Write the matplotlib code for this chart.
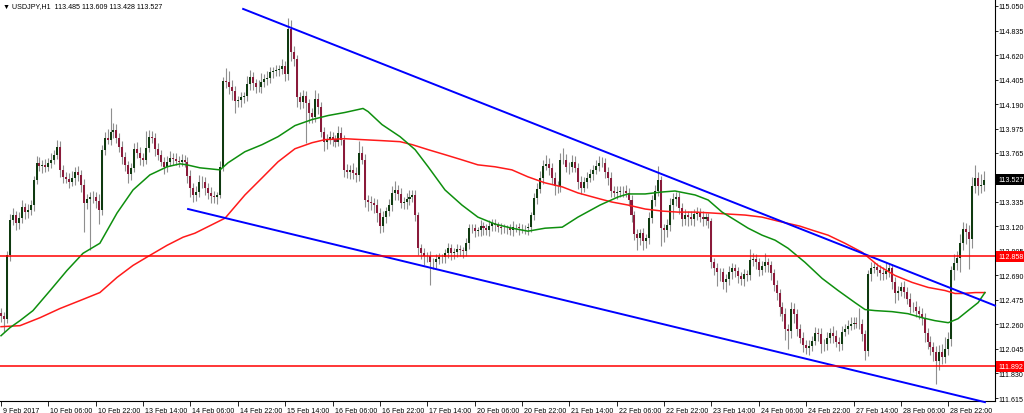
import matplotlib
matplotlib.use("Agg")
import matplotlib.pyplot as plt
import matplotlib.transforms as mtransforms
import numpy as np

# ============================================================
# Data: USDJPY H1, one value per bar (bar 0 = 9 Feb 2017 14:00)
# ============================================================
FIRST_OPEN = 112.36

CLOSES = [
    112.337, 112.310, 112.866, 113.174, 113.218, 113.147, 113.191, 113.288, 113.244, 113.262,
    113.306, 113.526, 113.676, 113.650, 113.658, 113.641, 113.676, 113.702, 113.747, 113.817,
    113.614, 113.553, 113.535, 113.509, 113.544, 113.597, 113.570, 113.482, 113.324, 113.359,
    113.376, 113.376, 113.341, 113.262, 113.791, 113.896, 113.879, 113.949, 113.967, 113.896,
    113.817, 113.729, 113.658, 113.579, 113.632, 113.799, 113.764, 113.720, 113.702, 113.808,
    113.905, 113.896, 113.799, 113.747, 113.685, 113.641, 113.685, 113.720, 113.711, 113.694,
    113.685, 113.702, 113.685, 113.561, 113.456, 113.394, 113.420, 113.509, 113.509, 113.456,
    113.412, 113.385, 113.376, 113.394, 113.641, 114.390, 114.381, 114.337, 114.302, 114.213,
    114.222, 114.249, 114.257, 114.363, 114.425, 114.372, 114.337, 114.337, 114.381, 114.407,
    114.416, 114.469, 114.478, 114.487, 114.495, 114.522, 114.451, 114.848, 114.645, 114.583,
    114.249, 114.205, 114.257, 114.196, 114.108, 114.081, 114.231, 114.161, 113.949, 113.861,
    113.887, 113.905, 113.887, 113.861, 113.940, 113.879, 113.614, 113.597, 113.614, 113.588,
    113.570, 113.764, 113.702, 113.350, 113.332, 113.324, 113.306, 113.236, 113.121, 113.200,
    113.253, 113.306, 113.412, 113.438, 113.403, 113.324, 113.332, 113.359, 113.376, 113.394,
    113.218, 112.927, 112.883, 112.857, 112.857, 112.804, 112.804, 112.830, 112.848, 112.848,
    112.883, 112.927, 112.883, 112.892, 112.918, 112.910, 112.901, 112.971, 113.103, 113.103,
    113.077, 113.086, 113.121, 113.103, 113.086, 113.121, 113.147, 113.130, 113.112, 113.103,
    113.103, 113.103, 113.086, 113.112, 113.112, 113.103, 113.103, 113.103, 113.112, 113.218,
    113.368, 113.447, 113.544, 113.650, 113.667, 113.632, 113.544, 113.473, 113.473, 113.702,
    113.702, 113.641, 113.641, 113.685, 113.632, 113.509, 113.456, 113.509, 113.544, 113.579,
    113.614, 113.650, 113.676, 113.676, 113.597, 113.544, 113.429, 113.412, 113.420, 113.429,
    113.429, 113.412, 113.350, 113.218, 113.050, 113.015, 113.059, 112.989, 113.015, 113.191,
    113.350, 113.429, 113.526, 113.103, 113.086, 113.130, 113.306, 113.359, 113.376, 113.280,
    113.183, 113.218, 113.200, 113.183, 113.227, 113.236, 113.200, 113.183, 113.200, 113.165,
    112.804, 112.751, 112.716, 112.716, 112.628, 112.654, 112.716, 112.751, 112.725, 112.680,
    112.654, 112.698, 112.689, 112.822, 112.830, 112.804, 112.733, 112.769, 112.804, 112.777,
    112.707, 112.601, 112.531, 112.416, 112.354, 112.222, 112.205, 112.399, 112.354, 112.222,
    112.143, 112.081, 112.055, 112.073, 112.117, 112.187, 112.178, 112.090, 112.090, 112.143,
    112.187, 112.161, 112.108, 112.090, 112.196, 112.222, 112.249, 112.266, 112.275, 112.266,
    112.266, 112.178, 112.029, 112.698, 112.751, 112.760, 112.733, 112.707, 112.698, 112.725,
    112.751, 112.628, 112.531, 112.557, 112.584, 112.548, 112.487, 112.416, 112.416, 112.381,
    112.354, 112.319, 112.187, 112.108, 112.064, 112.020, 111.940, 112.020, 111.976, 112.046,
    112.134, 112.733, 112.795, 112.839, 112.971, 113.095, 113.068, 113.006, 113.473, 113.544,
    113.473, 113.485, 113.527,
]

# wick lengths above / below the body, in pips
UPPER_WICK = [
    4, 3, 4, 5, 6, 4, 5, 6, 4, 5,
    4, 3, 6, 5, 4, 5, 4, 6, 4, 6,
    5, 4, 4, 5, 6, 4, 5, 4, 5, 4,
    4, 5, 4, 6, 4, 5, 8, 21, 6, 5,
    4, 5, 4, 3, 4, 5, 6, 5, 4, 15,
    6, 5, 4, 5, 4, 4, 5, 6, 4, 5,
    4, 5, 4, 4, 5, 4, 5, 6, 5, 4,
    4, 5, 4, 3, 5, 4, 12, 10, 6, 5,
    4, 5, 4, 7, 6, 5, 4, 6, 8, 5,
    6, 5, 4, 5, 4, 6, 5, 10, 8, 5,
    4, 5, 6, 5, 4, 5, 8, 6, 5, 4,
    4, 5, 4, 3, 6, 5, 4, 5, 4, 6,
    5, 10, 6, 5, 4, 5, 4, 5, 4, 5,
    4, 5, 6, 8, 4, 5, 4, 5, 6, 4,
    4, 3, 4, 5, 4, 5, 4, 5, 4, 3,
    4, 5, 4, 4, 5, 4, 3, 5, 4, 4,
    4, 3, 5, 4, 4, 5, 4, 4, 3, 4,
    4, 3, 4, 5, 3, 4, 4, 3, 4, 3,
    4, 5, 6, 5, 8, 5, 4, 5, 4, 6,
    10, 5, 4, 6, 5, 4, 5, 4, 5, 4,
    4, 5, 6, 5, 4, 4, 5, 4, 5, 4,
    4, 5, 4, 4, 4, 5, 4, 5, 4, 5,
    4, 5, 12, 3, 4, 5, 6, 5, 4, 4,
    4, 5, 4, 5, 4, 5, 4, 5, 4, 4,
    3, 4, 5, 4, 4, 5, 6, 5, 4, 4,
    4, 5, 4, 10, 6, 5, 4, 5, 8, 4,
    4, 4, 5, 4, 4, 5, 4, 6, 5, 4,
    4, 5, 4, 5, 4, 5, 4, 5, 4, 5,
    4, 6, 5, 4, 5, 4, 5, 6, 5, 5,
    14, 4, 3, 4, 6, 5, 4, 5, 6, 8,
    5, 4, 5, 4, 5, 6, 4, 5, 4, 5,
    4, 5, 4, 4, 5, 4, 5, 6, 7, 10,
    6, 4, 8, 6, 8, 6, 5, 6, 8, 11,
    5, 9, 8,
]

LOWER_WICK = [
    6, 12, 4, 5, 4, 6, 5, 4, 6, 5,
    4, 5, 4, 5, 6, 5, 4, 5, 4, 4,
    6, 5, 4, 5, 4, 6, 5, 6, 25, 5,
    45, 5, 6, 12, 4, 5, 4, 5, 6, 5,
    5, 6, 5, 8, 5, 4, 5, 6, 5, 4,
    4, 5, 6, 5, 4, 6, 5, 4, 5, 4,
    5, 4, 5, 6, 8, 6, 5, 4, 5, 6,
    5, 6, 5, 6, 3, 4, 5, 6, 8, 10,
    5, 6, 5, 4, 5, 6, 5, 4, 5, 4,
    5, 4, 5, 4, 5, 4, 6, 5, 8, 6,
    8, 6, 5, 35, 8, 6, 5, 6, 5, 8,
    6, 5, 6, 5, 4, 5, 6, 5, 6, 5,
    6, 5, 4, 6, 8, 6, 7, 8, 6, 5,
    5, 4, 5, 6, 5, 4, 5, 6, 5, 4,
    5, 6, 5, 8, 5, 20, 6, 5, 4, 5,
    5, 4, 6, 5, 4, 5, 6, 4, 5, 4,
    5, 4, 5, 6, 4, 5, 4, 5, 4, 5,
    4, 5, 4, 5, 4, 6, 4, 5, 6, 4,
    4, 5, 4, 5, 4, 6, 5, 8, 6, 5,
    4, 5, 6, 5, 4, 6, 5, 4, 5, 4,
    5, 4, 5, 4, 5, 6, 5, 4, 5, 4,
    5, 4, 5, 6, 5, 10, 6, 8, 6, 5,
    4, 5, 4, 16, 10, 6, 5, 12, 6, 5,
    6, 5, 8, 5, 6, 5, 4, 6, 5, 6,
    5, 6, 12, 8, 6, 8, 5, 6, 5, 6,
    5, 6, 5, 4, 5, 6, 5, 4, 5, 6,
    6, 5, 6, 8, 6, 10, 16, 6, 8, 6,
    5, 6, 5, 6, 5, 4, 6, 8, 6, 5,
    5, 6, 5, 6, 5, 4, 5, 4, 5, 4,
    5, 6, 8, 5, 6, 4, 5, 6, 5, 4,
    5, 6, 8, 6, 5, 6, 5, 6, 5, 6,
    5, 6, 8, 6, 7, 8, 20, 8, 6, 5,
    5, 6, 8, 6, 12, 6, 10, 26, 8, 6,
    8, 6, 6,
]

# moving averages (bar position, price)
GREEN_BARS = [0, 3.0, 6.4, 10.8, 16.6, 22.3, 27.7, 33.4, 39.2, 44.6, 50.3, 56.1,
              60.5, 62.8, 67.2, 74.0, 76.7, 82.4, 88.2, 93.6, 99.3, 105.1, 110.5,
              116.2, 122.3, 124.0, 128.7, 134.8, 139.9, 144.3, 150.0, 155.7, 161.1,
              166.9, 172.6, 178.0, 183.8, 189.6, 194.9, 202.4, 208.4, 211.8, 217.6,
              223.3, 227.7, 234.5, 238.9, 243.6, 248.0, 252.4, 257.1, 261.5, 265.9,
              271.6, 277.4, 282.8, 288.5, 291.9, 295.3, 301.0, 306.4, 311.1,
              315.5, 320.0, 323.3, 326.7, 330.1, 332.4]
GREEN_MA = [112.161, 112.231, 112.293, 112.381, 112.557, 112.733, 112.883, 112.971,
            113.236, 113.438, 113.570, 113.641, 113.667, 113.658, 113.632, 113.614,
            113.676, 113.773, 113.835, 113.905, 114.002, 114.055, 114.090, 114.117,
            114.152, 114.125, 114.011, 113.905, 113.791, 113.641, 113.438, 113.306,
            113.200, 113.139, 113.103, 113.077, 113.103, 113.112, 113.200, 113.306,
            113.376, 113.403, 113.403, 113.420, 113.429, 113.394, 113.350, 113.244,
            113.174, 113.103, 113.042, 112.998, 112.927, 112.804, 112.663,
            112.557, 112.451, 112.390, 112.381, 112.372, 112.354, 112.319, 112.293,
            112.275, 112.310, 112.381, 112.451, 112.539]

RED_BARS = [0, 6.4, 13.2, 19.9, 26.7, 33.4, 39.2, 44.6, 50.3, 56.1, 61.5, 65.5,
            72.3, 75.7, 82.4, 88.2, 93.6, 99.3, 105.1, 109.5, 116.2, 121.9, 128.7,
            134.8, 138.9, 144.3, 150.0, 155.7, 161.1, 166.9, 172.6, 178.0, 183.8,
            189.6, 194.9, 202.4, 206.4, 211.8, 217.6, 223.3, 228.7, 234.5, 240.2,
            245.6, 251.4, 257.1, 262.5, 269.9, 274.0, 279.4, 285.1, 290.9, 296.3,
            302.0, 307.8, 313.2, 318.9, 322.3, 324.7, 329.1, 332.4]
RED_MA = [112.240, 112.249, 112.319, 112.399, 112.469, 112.539, 112.672, 112.777,
          112.865, 112.953, 113.024, 113.059, 113.147, 113.191, 113.394, 113.544,
          113.685, 113.799, 113.852, 113.879, 113.887, 113.879, 113.870, 113.861,
          113.835, 113.791, 113.747, 113.702, 113.658, 113.641, 113.614, 113.553,
          113.500, 113.465, 113.412, 113.359, 113.332, 113.306, 113.271, 113.253,
          113.244, 113.244, 113.236, 113.227, 113.218, 113.200, 113.165, 113.121,
          113.086, 113.042, 112.971, 112.892, 112.777, 112.689, 112.628, 112.584,
          112.557, 112.531, 112.531, 112.539, 112.539]

# trend lines: (bar, price) anchor pairs
UPPER_TREND = [(81.8, 115.024), (335.8, 112.425)]
LOWER_TREND = [(63.2, 113.271), (332.4, 111.579)]

# horizontal levels
LEVELS = [112.858, 111.892]
LAST_PRICE = 113.527

TITLE = "USDJPY,H1  113.485 113.609 113.428 113.527"

Y_TICKS = ["115.050", "114.835", "114.620", "114.405", "114.190", "113.975",
           "113.765", "113.550", "113.335", "113.120", "112.905", "112.690",
           "112.475", "112.260", "112.045", "111.830", "111.615"]

X_TICK_BARS = list(range(0, 321, 16))
X_TICK_LABELS = ["9 Feb 2017", "10 Feb 06:00", "10 Feb 22:00", "13 Feb 14:00",
                 "14 Feb 06:00", "14 Feb 22:00", "15 Feb 14:00", "16 Feb 06:00",
                 "16 Feb 22:00", "17 Feb 14:00", "20 Feb 06:00", "20 Feb 22:00",
                 "21 Feb 14:00", "22 Feb 06:00", "22 Feb 22:00", "23 Feb 14:00",
                 "24 Feb 06:00", "24 Feb 22:00", "27 Feb 14:00", "28 Feb 06:00",
                 "28 Feb 22:00"]

# ============================================================
# OHLC arrays
# ============================================================
closes = np.array(CLOSES)
opens = np.concatenate([[FIRST_OPEN], closes[:-1]])
highs = np.maximum(opens, closes) + np.array(UPPER_WICK) * 0.01
lows = np.minimum(opens, closes) - np.array(LOWER_WICK) * 0.01
bars = np.arange(len(closes))
up = closes >= opens

# ============================================================
# Plot
# ============================================================
FONT = ["Liberation Sans", "DejaVu Sans"]
FS = 5.1
plt.rcParams["font.family"] = FONT

fig = plt.figure(figsize=(10.24, 4.14), dpi=100)
ax = fig.add_axes([0, 12 / 414, 995 / 1024, 402 / 414])
ax.set_xlim(-0.34, 335.8)
ax.set_ylim(111.589, 115.111)

# candles
ax.vlines(bars, lows, highs, color="#8f8f8f", lw=0.8, zorder=2)
ax.bar(bars[up], closes[up] - opens[up], bottom=opens[up], width=0.68,
       color="#0f3a10", lw=0, zorder=3)
ax.bar(bars[~up], closes[~up] - opens[~up], bottom=opens[~up], width=0.68,
       color="#8a1a3a", lw=0, zorder=3)

# moving averages
ax.plot(RED_BARS, RED_MA, color="#ff1a1a", lw=1.1, zorder=4)
ax.plot(GREEN_BARS, GREEN_MA, color="#0e8f0e", lw=1.1, zorder=4)

# trend lines and levels
for line in (UPPER_TREND, LOWER_TREND):
    xs, ys = zip(*line)
    ax.plot(xs, ys, color="#0000ff", lw=1.4, zorder=5, clip_on=False)
for lvl in LEVELS:
    ax.axhline(lvl, color="#ff0000", lw=1.1, zorder=5)

# axes styling
for side in ("left", "top"):
    ax.spines[side].set_visible(False)
for side in ("right", "bottom"):
    ax.spines[side].set_color("#000000")
    ax.spines[side].set_linewidth(0.8)

ax.yaxis.tick_right()
ax.set_yticks([float(t) for t in Y_TICKS])
ax.set_yticklabels(Y_TICKS)
ax.tick_params(axis="y", direction="out", length=2, width=0.6, pad=0.8,
               labelsize=FS, colors="#000000")

ax.set_xticks(X_TICK_BARS)
ax.set_xticklabels(X_TICK_LABELS)
ax.tick_params(axis="x", direction="out", length=3.5, width=0.6, pad=0.5,
               labelsize=FS, colors="#000000")
shift = mtransforms.ScaledTranslation(2 / 100, 0, fig.dpi_scale_trans)
for lab in ax.get_xticklabels():
    lab.set_horizontalalignment("left")
    lab.set_transform(lab.get_transform() + shift)

# price boxes on the right scale
trans = mtransforms.blended_transform_factory(ax.transAxes, ax.transData)
box_items = [(LAST_PRICE, "#000000")] + [(lvl, "#ff0000") for lvl in LEVELS]
for price, col in box_items:
    ax.text(1.0035, price, f"{price:.3f}", transform=trans, ha="left", va="center",
            fontsize=FS, color="white", zorder=10, clip_on=False,
            bbox=dict(boxstyle="square,pad=0.3", facecolor=col, edgecolor="none"))

# header
fig.text(3 / 1024, 1 - 7 / 414, "\u25bc " + TITLE, fontsize=FS, va="center",
         ha="left", color="#000000")

fig.savefig("out.png", dpi=100, facecolor="white")
